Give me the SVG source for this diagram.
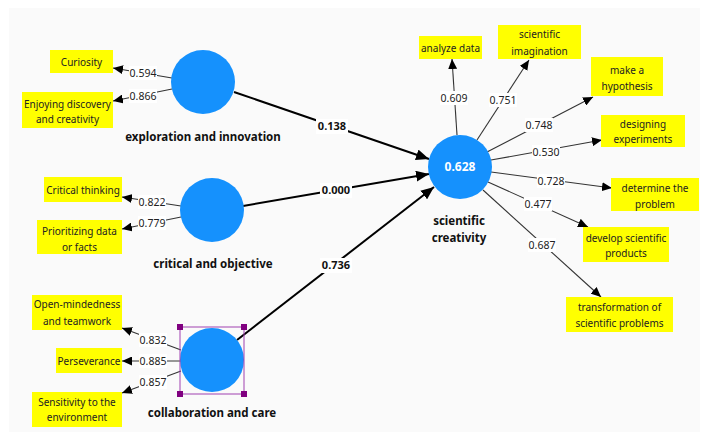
<svg xmlns="http://www.w3.org/2000/svg" width="703" height="435" viewBox="0 0 703 435">
<style>
.bg{fill:#fafafa}
.lv{fill:#1591fd}
.ind{fill:#ffff00}
.t{font-family:"Segoe UI","Noto Sans","Open Sans",sans-serif;font-size:10px;fill:#222;text-anchor:middle}
.lb{font-family:"Segoe UI","Noto Sans","Open Sans",sans-serif;font-size:11.5px;font-weight:bold;fill:#111;text-anchor:middle}
.num{font-family:"Segoe UI","Noto Sans","Open Sans",sans-serif;font-size:10.5px;fill:#222;text-anchor:middle}
.numb{font-family:"Segoe UI","Noto Sans","Open Sans",sans-serif;font-size:11px;font-weight:bold;fill:#111;text-anchor:middle}
.nbg{fill:#ffffff}
.thin{stroke:#333;stroke-width:1.1;fill:none}
.thick{stroke:#000;stroke-width:2;fill:none}
.sel{fill:none;stroke:#a040b0;stroke-width:1}
.h{fill:#800080}
</style>
<defs>
<marker id="a" markerUnits="userSpaceOnUse" markerWidth="11" markerHeight="9" refX="10" refY="4.5" orient="auto"><path d="M0,0 L10,4.5 L0,9 z" fill="#000"/></marker>
<marker id="A" markerUnits="userSpaceOnUse" markerWidth="14" markerHeight="11" refX="13" refY="5.5" orient="auto"><path d="M0,0 L13,5.5 L0,11 z" fill="#000"/></marker>
</defs>
<rect class="bg" x="9" y="8" width="691" height="424"/>

<g id="connectors">
<line class="thin" x1="172" y1="78" x2="113" y2="68" marker-end="url(#a)"/>
<line class="thin" x1="172" y1="89" x2="113" y2="101" marker-end="url(#a)"/>
<line class="thin" x1="181" y1="206" x2="122" y2="197" marker-end="url(#a)"/>
<line class="thin" x1="181" y1="217" x2="122" y2="229" marker-end="url(#a)"/>
<line class="thin" x1="181" y1="350" x2="122" y2="328" marker-end="url(#a)"/>
<line class="thin" x1="181" y1="361" x2="122" y2="361" marker-end="url(#a)"/>
<line class="thin" x1="181" y1="371" x2="122" y2="393" marker-end="url(#a)"/>
<line class="thin" x1="457" y1="135" x2="452" y2="59" marker-end="url(#a)"/>
<line class="thin" x1="477" y1="140" x2="529" y2="60" marker-end="url(#a)"/>
<line class="thin" x1="487" y1="152" x2="593" y2="97" marker-end="url(#a)"/>
<line class="thin" x1="491" y1="160" x2="602" y2="140" marker-end="url(#a)"/>
<line class="thin" x1="491" y1="172" x2="612" y2="188" marker-end="url(#a)"/>
<line class="thin" x1="488" y1="182" x2="588" y2="227" marker-end="url(#a)"/>
<line class="thin" x1="483" y1="190" x2="601" y2="297" marker-end="url(#a)"/>
<line class="thick" x1="234" y1="92" x2="429" y2="159" marker-end="url(#A)"/>
<line class="thick" x1="243" y1="206" x2="429" y2="174" marker-end="url(#A)"/>
<line class="thick" x1="237" y1="340" x2="434" y2="187" marker-end="url(#A)"/>
<rect class="nbg" x="129" y="66" width="28" height="14"/><text class="num" x="143" y="77">0.594</text>
<rect class="nbg" x="129" y="89" width="28" height="14"/><text class="num" x="143" y="100">0.866</text>
<rect class="nbg" x="138" y="195" width="28" height="14"/><text class="num" x="152" y="206">0.822</text>
<rect class="nbg" x="138" y="216" width="28" height="14"/><text class="num" x="152" y="227">0.779</text>
<rect class="nbg" x="139" y="333" width="28" height="14"/><text class="num" x="153" y="344">0.832</text>
<rect class="nbg" x="139" y="354" width="28" height="14"/><text class="num" x="153" y="365">0.885</text>
<rect class="nbg" x="139" y="375" width="28" height="14"/><text class="num" x="153" y="386">0.857</text>
<rect class="nbg" x="440" y="91" width="28" height="14"/><text class="num" x="454" y="102">0.609</text>
<rect class="nbg" x="489" y="93" width="28" height="14"/><text class="num" x="503" y="104">0.751</text>
<rect class="nbg" x="525" y="118" width="28" height="14"/><text class="num" x="539" y="129">0.748</text>
<rect class="nbg" x="532" y="145" width="28" height="14"/><text class="num" x="546" y="156">0.530</text>
<rect class="nbg" x="537" y="174" width="28" height="14"/><text class="num" x="551" y="185">0.728</text>
<rect class="nbg" x="524" y="197" width="28" height="14"/><text class="num" x="538" y="208">0.477</text>
<rect class="nbg" x="528" y="238" width="28" height="14"/><text class="num" x="542" y="249">0.687</text>
<rect class="nbg" x="316" y="119" width="32" height="15"/><text class="numb" x="332" y="130">0.138</text>
<rect class="nbg" x="320" y="183" width="32" height="15"/><text class="numb" x="336" y="194">0.000</text>
<rect class="nbg" x="320" y="258" width="32" height="15"/><text class="numb" x="336" y="269">0.736</text>
</g>

<g id="exploration">
<circle class="lv" cx="203" cy="82" r="32"/>
<text class="lb" x="203" y="141">exploration and innovation</text>
</g>
<g id="critical">
<circle class="lv" cx="212" cy="210" r="32"/>
<text class="lb" x="213" y="268">critical and objective</text>
</g>
<g id="collaboration">
<circle class="lv" cx="212" cy="360" r="32"/>
<rect class="sel" x="180" y="327" width="64" height="67"/>
<rect class="h" x="177" y="324" width="6" height="6"/>
<rect class="h" x="241" y="324" width="6" height="6"/>
<rect class="h" x="177" y="391" width="6" height="6"/>
<rect class="h" x="241" y="391" width="6" height="6"/>
<text class="lb" x="212" y="417">collaboration and care</text>
</g>
<g id="creativity">
<circle class="lv" cx="460" cy="167" r="32"/>
<text class="numb" x="460" y="171" style="fill:#fff;font-size:12px">0.628</text>
<text class="lb" x="459" y="225">scientific</text>
<text class="lb" x="459" y="242">creativity</text>
</g>

<g id="curiosity"><rect class="ind" x="50" y="50" width="63" height="23"/><text class="t" x="81.5" y="65.5">Curiosity</text></g>
<g id="enjoying"><rect class="ind" x="22" y="92" width="91" height="36"/><text class="t" x="67.5" y="108">Enjoying discovery</text><text class="t" x="67.5" y="123">and creativity</text></g>
<g id="critical-thinking"><rect class="ind" x="44" y="177" width="78" height="25"/><text class="t" x="83" y="193.5">Critical thinking</text></g>
<g id="prioritizing"><rect class="ind" x="37" y="220" width="85" height="34"/><text class="t" x="79.5" y="235">Prioritizing data</text><text class="t" x="79.5" y="251">or facts</text></g>
<g id="open-mindedness"><rect class="ind" x="32" y="295" width="90" height="35"/><text class="t" x="77" y="308">Open-mindedness</text><text class="t" x="77" y="324.5">and teamwork</text></g>
<g id="perseverance"><rect class="ind" x="56" y="348" width="66" height="25"/><text class="t" x="89" y="364.5">Perseverance</text></g>
<g id="sensitivity"><rect class="ind" x="32" y="392" width="90" height="35"/><text class="t" x="77" y="406">Sensitivity to the</text><text class="t" x="77" y="421">environment</text></g>

<g id="analyze"><rect class="ind" x="419" y="36" width="63" height="23"/><text class="t" x="450.5" y="52">analyze data</text></g>
<g id="imagination"><rect class="ind" x="498" y="25" width="83" height="34"/><text class="t" x="539.5" y="38">scientific</text><text class="t" x="539.5" y="55">imagination</text></g>
<g id="hypothesis"><rect class="ind" x="591" y="57" width="72" height="39"/><text class="t" x="627" y="74">make a</text><text class="t" x="627" y="90">hypothesis</text></g>
<g id="designing"><rect class="ind" x="601" y="115" width="84" height="32"/><text class="t" x="643" y="128">designing</text><text class="t" x="643" y="143">experiments</text></g>
<g id="determine"><rect class="ind" x="611" y="178" width="88" height="33"/><text class="t" x="655" y="192">determine the</text><text class="t" x="655" y="208">problem</text></g>
<g id="develop"><rect class="ind" x="583" y="227" width="86" height="35"/><text class="t" x="626" y="242">develop scientific</text><text class="t" x="626" y="257">products</text></g>
<g id="transformation"><rect class="ind" x="566" y="297" width="107" height="35"/><text class="t" x="619.5" y="311">transformation of</text><text class="t" x="619.5" y="327">scientific problems</text></g>
</svg>
